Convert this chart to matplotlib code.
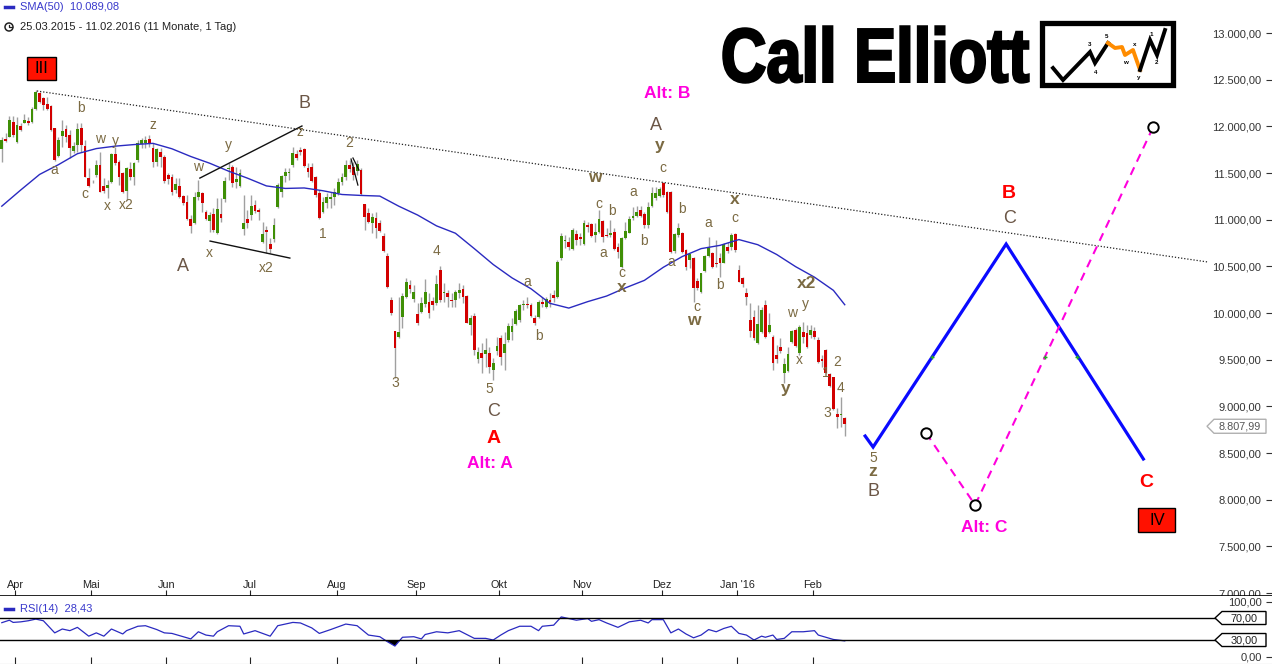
import numpy as np
import pandas as pd
import matplotlib
matplotlib.use("Agg")
import matplotlib.pyplot as plt
from matplotlib.patches import Polygon, Rectangle, Circle, PathPatch
from matplotlib.textpath import TextPath
from matplotlib.font_manager import FontProperties
from matplotlib.transforms import Affine2D

plt.rcParams['font.family'] = ['Liberation Sans', 'DejaVu Sans']

# Xetra trading days of the chart
holidays = ['2015-04-03', '2015-04-06', '2015-05-01', '2015-12-24',
            '2015-12-25', '2015-12-31', '2016-01-01']
days = pd.bdate_range('2015-03-26', '2016-02-11')
days = days[~days.isin(pd.to_datetime(holidays))]
month_names = ["Apr", "Mai", "Jun", "Jul", "Aug", "Sep", "Okt", "Nov", "Dez", "Jan '16", "Feb"]

# Daily candles
opens = [
    11757, 11864, 11882, 12050, 11835, 12003, 12039, 12057, 12050, 12182,
    12353, 12300, 12239, 12217, 11978, 11682, 11896, 11967, 11907, 11739,
    11800, 11978, 11789, 11443, 11400, 11478, 11585, 11360, 11335, 11407,
    11703, 11621, 11496, 11310, 11539, 11453, 11639, 11811, 11818, 11860,
    11764, 11621, 11728, 11675, 11482, 11460, 11318, 11360, 11254, 11189,
    11003, 10960, 11239, 11282, 11085, 10989, 11060, 10853, 11060, 11221,
    11546, 11560, 11407, 11360, 10900, 11003, 11050, 11157, 11103, 10757,
    10889, 10739, 10793, 11139, 11300, 11468, 11503, 11585, 11703, 11746,
    11757, 11557, 11560, 11460, 11289, 11085, 11175, 11221, 11246, 11282,
    11407, 11460, 11585, 11560, 11525, 11532, 11168, 11075, 10960, 11021,
    10960, 10825, 10611, 10139, 9810, 9739, 9960, 10168, 10300, 10146,
    9989, 10015, 10097, 10122, 10129, 10111, 10461, 10211, 10218, 10139,
    10139, 10218, 10254, 10182, 9872, 9972, 9504, 9568, 9561, 9568,
    9390, 9593, 9736, 9575, 9711, 9800, 9882, 9925, 10090, 10096,
    10086, 9943, 9961, 10122, 10068, 10139, 10193, 10175, 10586, 10775,
    10764, 10682, 10846, 10818, 10739, 10943, 10954, 10836, 10871, 10989,
    10836, 10836, 10871, 10704, 10489, 10800, 10861, 11014, 11039, 11104,
    11061, 10943, 11146, 11229, 11254, 11396, 11300, 11300, 10668, 10836,
    10854, 10675, 10568, 10586, 10346, 10229, 10454, 10611, 10639, 10532,
    10586, 10539, 10711, 10711, 10846, 10461, 10379, 10218, 9925, 9961,
    9675, 9800, 10086, 9800, 9747, 9550, 9640, 9354, 9382, 9693,
    9818, 9568, 9800, 9782, 9764, 9807, 9711, 9504, 9604, 9347,
    9311, 8918, 8905, 8872]
highs = [
    11889, 11932, 12110, 12110, 12103, 12032, 12128, 12103, 12210, 12389,
    12371, 12317, 12310, 12228, 11978, 11889, 12067, 12014, 11960, 11835,
    12032, 12032, 11853, 11550, 11425, 11639, 11728, 11443, 11425, 11710,
    11782, 11639, 11514, 11560, 11621, 11621, 11853, 11871, 11896, 11907,
    11818, 11764, 11764, 11693, 11496, 11485, 11443, 11443, 11264, 11264,
    11050, 11300, 11425, 11300, 11103, 11085, 11121, 11228, 11228, 11460,
    11603, 11585, 11568, 11539, 11264, 11103, 11264, 11210, 11121, 10978,
    10932, 10800, 11014, 11389, 11478, 11550, 11550, 11782, 11746, 11782,
    11764, 11603, 11610, 11468, 11318, 11246, 11282, 11300, 11335, 11443,
    11496, 11639, 11639, 11621, 11639, 11550, 11168, 11121, 11068, 11085,
    10996, 10853, 10639, 10175, 9811, 10175, 10211, 10371, 10353, 10300,
    10103, 10175, 10361, 10211, 10175, 10407, 10504, 10318, 10247, 10211,
    10247, 10318, 10300, 10193, 9979, 9997, 9640, 9675, 9729, 9640,
    9515, 9747, 9764, 9800, 9890, 9943, 10040, 10097, 10139, 10175,
    10104, 9979, 10139, 10175, 10175, 10211, 10247, 10568, 10854, 10836,
    10811, 10907, 10889, 10854, 10997, 10979, 10961, 10961, 11104, 10997,
    10907, 10997, 10907, 10747, 10811, 10979, 11039, 11139, 11147, 11147,
    11086, 11193, 11354, 11347, 11354, 11407, 11311, 11311, 10854, 10968,
    10871, 10682, 10622, 10597, 10372, 10432, 10622, 10811, 10657, 10782,
    10639, 10754, 10764, 10861, 10861, 10514, 10389, 10264, 10104, 10032,
    10086, 10068, 10139, 9997, 9764, 9657, 9729, 9515, 9640, 9818,
    9836, 9872, 9907, 9872, 9872, 9854, 9747, 9550, 9611, 9361,
    9318, 8979, 9104, 8890]
lows = [
    11621, 11835, 11882, 11889, 11818, 11953, 12032, 12014, 12039, 12175,
    12253, 12175, 12175, 11953, 11632, 11675, 11782, 11835, 11657, 11710,
    11728, 11728, 11453, 11346, 11389, 11460, 11293, 11282, 11228, 11389,
    11585, 11371, 11282, 11210, 11425, 11371, 11621, 11764, 11764, 11782,
    11568, 11575, 11568, 11396, 11382, 11264, 11282, 11228, 11157, 10996,
    10853, 10953, 11210, 11085, 10996, 10871, 10871, 10846, 10978, 11193,
    11425, 11346, 11335, 11353, 10836, 10907, 10996, 11068, 10996, 10746,
    10639, 10639, 10764, 11121, 11246, 11407, 11425, 11568, 11639, 11693,
    11560, 11460, 11407, 11246, 11003, 11068, 11121, 11121, 11157, 11264,
    11371, 11425, 11514, 11425, 11478, 11264, 10889, 10960, 10853, 10800,
    10871, 10657, 10264, 9979, 9300, 9729, 9836, 10157, 10211, 10121,
    9871, 9997, 10068, 9943, 10032, 10086, 10122, 10122, 10068, 10068,
    10068, 10157, 10104, 9890, 9764, 9550, 9461, 9354, 9425, 9354,
    9282, 9550, 9443, 9390, 9693, 9711, 9872, 9907, 10032, 10050,
    9961, 9872, 9943, 10068, 10050, 10068, 10122, 10157, 10568, 10693,
    10675, 10675, 10729, 10729, 10729, 10871, 10811, 10764, 10854, 10764,
    10818, 10818, 10675, 10586, 10479, 10789, 10854, 10997, 11032, 11032,
    10907, 10907, 11132, 11211, 11239, 11246, 11068, 10639, 10639, 10811,
    10639, 10461, 10479, 10122, 10247, 10218, 10443, 10604, 10479, 10497,
    10389, 10532, 10639, 10675, 10657, 10336, 10282, 10086, 9747, 9711,
    9668, 9782, 9729, 9782, 9390, 9461, 9575, 9247, 9372, 9675,
    9640, 9550, 9675, 9622, 9729, 9718, 9461, 9425, 9361, 9204,
    8961, 8765, 8783, 8683]
closes = [
    11853, 11843, 12067, 11907, 12014, 11960, 12067, 12039, 12182, 12371,
    12264, 12228, 12182, 11960, 11639, 11853, 11950, 11882, 11764, 11789,
    11967, 11800, 11460, 11360, 11407, 11585, 11300, 11310, 11371, 11703,
    11603, 11460, 11300, 11550, 11453, 11603, 11825, 11853, 11853, 11810,
    11621, 11753, 11668, 11418, 11439, 11300, 11382, 11239, 11175, 11003,
    10932, 11246, 11300, 11182, 11003, 11050, 10889, 11110, 11014, 11418,
    11557, 11389, 11435, 11496, 10960, 10968, 11146, 11096, 11085, 10846,
    10871, 10685, 10943, 11371, 11468, 11514, 11514, 11710, 11664, 11728,
    11575, 11514, 11418, 11264, 11021, 11193, 11246, 11246, 11300, 11407,
    11460, 11585, 11539, 11478, 11596, 11275, 11025, 10978, 11032, 10907,
    10882, 10668, 10282, 9996, 9621, 9800, 10182, 10336, 10254, 10228,
    9896, 10104, 10229, 9997, 10086, 10307, 10139, 10225, 10168, 10129,
    10229, 10247, 10175, 9897, 9943, 9604, 9586, 9515, 9604, 9425,
    9461, 9647, 9532, 9664, 9861, 9861, 10022, 10086, 10097, 10086,
    9972, 9890, 10122, 10097, 10147, 10114, 10157, 10550, 10825, 10782,
    10704, 10889, 10782, 10789, 10968, 10918, 10825, 10871, 11007, 10811,
    10825, 10861, 10686, 10657, 10800, 10879, 11004, 11039, 11086, 11043,
    10943, 11139, 11282, 11289, 11325, 11264, 11086, 10657, 10846, 10907,
    10657, 10489, 10632, 10264, 10264, 10425, 10611, 10693, 10489, 10522,
    10539, 10739, 10664, 10836, 10675, 10336, 10311, 10168, 9811, 9729,
    9882, 10032, 9747, 9872, 9461, 9504, 9593, 9454, 9561, 9807,
    9650, 9854, 9739, 9640, 9818, 9747, 9479, 9490, 9361, 9218,
    8968, 8882, 8912, 8807.99]

# SMA(50), read every 5 sessions
sma_day = [0, 5, 10, 15, 20, 25, 30, 35, 40, 45, 50, 55, 60, 65, 70, 75, 80, 85, 90, 95,
           100, 105, 110, 115, 120, 125, 130, 135, 140, 145, 150, 155, 160, 165, 170,
           175, 180, 185, 190, 195, 200, 205, 210, 215, 220, 223]
sma_val = [11145, 11318, 11485, 11590, 11707, 11762, 11788, 11805, 11818, 11760,
           11677, 11605, 11520, 11445, 11362, 11335, 11340, 11310, 11270, 11260,
           11253, 11145, 11050, 10934, 10855, 10690, 10520, 10376, 10260, 10104,
           10053, 10122, 10182, 10270, 10350, 10490, 10605, 10690, 10725, 10787,
           10732, 10627, 10497, 10384, 10243, 10089.08]

# RSI(14)
rsi_day = [0, 2, 3, 5, 7, 9, 11, 14, 16, 18, 20, 23, 25, 27, 29, 32, 33, 36, 38, 41,
           43, 45, 50, 52, 54, 56, 57, 60, 63, 64, 67, 71, 73, 77, 79, 82, 84, 87, 91,
           94, 97, 100, 102, 104, 106, 109, 111, 112, 115, 118, 121, 125, 128, 130,
           132, 134, 137, 140, 142, 143, 146, 148, 150, 152, 155, 156, 158, 160, 163,
           166, 169, 171, 172, 175, 177, 179, 181, 183, 185, 187, 189, 191, 193, 195,
           197, 199, 201, 202, 204, 205, 207, 209, 212, 215, 216, 220, 223]
rsi_val = [61.5, 66, 62, 63, 65, 68, 65, 43, 50, 47, 53, 37, 43, 37, 50, 41, 47, 55, 56, 49,
           43, 42, 32, 45, 39, 37, 45, 56, 55, 41, 47, 37, 56, 62, 61, 52, 42, 49, 59,
           56, 39, 36, 27, 19, 35, 36, 32, 40, 45, 43, 47, 33, 33, 30,
           39, 47, 55, 55, 47, 55, 57, 72, 69, 66, 69, 64, 67, 61, 53,
           63, 66, 61, 67, 67, 43, 50, 41, 34, 39, 49, 45, 51, 55, 42,
           39, 30, 37, 35, 39, 31, 33, 45, 45, 47, 39, 31, 28.43]

# Long trend line and wave projections (session index, price)
trend_day = [9.3, 319]
trend_val = [12379, 10547]
wedge_hi_day, wedge_hi_val = [52.4, 79.4], [11446, 12004]
wedge_lo_day, wedge_lo_val = [55.1, 76.2], [10771, 10589]
proj_day = [228.4, 230.5, 265.7, 302]
proj_val = [8682, 8564, 10739, 8436]
alt_day = [244.5, 257.5, 304.6]
alt_val = [8714, 7943, 11993]

# Wave labels: text, session index, price, style
labels = [
    ("a", 14, 11530, "s"), ("b", 21, 12200, "s"), ("c", 22, 11275, "s"), ("w", 26, 11865, "s"),
    ("y", 30, 11845, "s"), ("x", 28, 11145, "s"), ("x2", 33, 11155, "s"), ("z", 40, 12015, "s"),
    ("w", 52, 11565, "s"), ("y", 60, 11800, "s"), ("x", 55, 10645, "s"), ("x2", 70, 10480, "s"),
    ("z", 79, 11940, "s"), ("2", 92, 11820, "s"), ("1", 85, 10845, "s"), ("4", 115, 10665, "s"),
    ("3", 104, 9250, "s"), ("5", 129, 9185, "s"), ("a", 139, 10330, "s"), ("b", 142, 9755, "s"),
    ("c", 158, 11170, "s"), ("b", 161.5, 11095, "s"), ("a", 159, 10645, "s"), ("c", 164, 10430, "s"),
    ("a", 167, 11295, "s"), ("b", 170, 10770, "s"), ("c", 175, 11555, "s"), ("b", 180, 11115, "s"),
    ("a", 177, 10545, "s"), ("c", 184, 10065, "s"), ("a", 187, 10965, "s"), ("b", 190, 10300, "s"),
    ("c", 194, 11020, "s"), ("y", 212.5, 10095, "s"), ("w", 209, 10000, "s"), ("x", 211, 9495, "s"),
    ("2", 221, 9475, "s"), ("1", 218, 9357, "s"), ("4", 222, 9195, "s"), ("3", 218.5, 8930, "s"),
    ("5", 230.5, 8445, "s"),
    ("w", 157, 11455, "m"), ("x", 164, 10270, "m"), ("y", 174, 11800, "m"), ("w", 183, 9925, "m"),
    ("x", 194, 11220, "m"), ("x2", 213, 10320, "m"), ("y", 207.5, 9195, "m"), ("z", 230.5, 8307, "m"),
    ("A", 48, 10495, "b"), ("B", 80, 12240, "b"), ("A", 173, 12005, "b"), ("C", 130, 8940, "b"),
    ("B", 230.5, 8093, "b"), ("C", 266.5, 11018, "b"),
    ("A", 130, 8660, "r"), ("B", 266.5, 11285, "r"), ("C", 302.7, 8180, "r"),
    ("Alt: B", 176, 12355, "alt"), ("Alt: A", 129, 8393, "alt"), ("Alt: C", 260, 7707, "alt"),
]
styles = {
    "s": dict(fontsize=10, color="#7b6a42"),
    "m": dict(fontsize=12.5, color="#7b6a42", fontweight="bold"),
    "b": dict(fontsize=13, color="#6b5646"),
    "r": dict(fontsize=14, color="#ff0000", fontweight="bold"),
    "alt": dict(fontsize=12.5, color="#ff00dd", fontweight="bold"),
}
boxes = [("III", 10.4, 12625, 3.85, 123), ("IV", 305.6, 7782, 4.9, 128)]


def de_num(v):
    return f"{v:,.2f}".replace(",", "X").replace(".", ",").replace("X", ".")


W, H = 1272, 664
fig = plt.figure(figsize=(W / 100, H / 100), dpi=100)
ax = fig.add_axes([0, 68 / H, 1, 596 / H])
ax_rsi = fig.add_axes([0, 0, 1, 68 / H])

x = np.arange(len(days))
o, h, l, c = map(np.array, (opens, highs, lows, closes))
up = c >= o

# candles
ax.vlines(x, l, h, color="#a0a0a0", lw=1, zorder=2)
body = np.maximum(np.abs(c - o), 9)
ax.bar(x, body, bottom=np.minimum(o, c), width=0.74,
       color=np.where(up, "#3f8f06", "#d20000"), zorder=3)

ax.plot(sma_day, sma_val, color="#2a2ac0", lw=1, zorder=4)
ax.plot(trend_day, trend_val, color="#222222", lw=0.9, ls=(0, (1, 1.5)), zorder=4)
ax.plot(wedge_hi_day, wedge_hi_val, color="#111111", lw=1, zorder=4)
ax.plot(wedge_lo_day, wedge_lo_val, color="#111111", lw=1, zorder=4)
ax.plot([92.4, 94.2], [11650, 11371], color="#111111", lw=0.9, zorder=4)
ax.plot([92.9, 94.5], [11661, 11532], color="#111111", lw=0.9, zorder=4)

# projections
ax.plot(proj_day, proj_val, color="#0a0aff", lw=2.3, solid_joinstyle="miter", zorder=5)
ax.plot(alt_day, alt_val, color="#ff00dd", lw=1.5, ls=(0, (4, 3)), zorder=5)
ax.plot(alt_day, alt_val, ls="none", marker="o", ms=7.5, mfc="white", mec="black", mew=1.4, zorder=6)
ax.plot([246.1, 276, 284.4], [9530, 9530, 9530], ls="none", marker="+", ms=3, color="#22aa22", zorder=6)

for txt, d, v, st in labels:
    ax.text(d, v, txt, ha="center", va="center", zorder=7, **styles[st])
for txt, d, v, dw, dh in boxes:
    ax.add_patch(Rectangle((d - dw, v - dh), 2 * dw, 2 * dh, fc="#ff1100", ec="black", lw=1, zorder=7))
    ax.text(d, v, txt, ha="center", va="center", fontsize=12, color="black", zorder=8)

x_lo, x_hi = -1.8 / 3.78, (W - 1.8) / 3.78
month_start = [i for i in range(1, len(days)) if days[i].month != days[i - 1].month]
ticks = [i - 0.45 for i in month_start]

ax.set_xlim(x_lo, x_hi)
ax.set_ylim(6968, 13354)
ax.set_xticks(ticks)
ax.set_xticklabels(month_names[:len(ticks)])
ax.tick_params(axis="x", direction="in", length=4, pad=-11.5, labelsize=7.8, colors="#222222")
ax.yaxis.tick_right()
ax.set_yticks(np.arange(7000, 13001, 500))
ax.set_yticklabels([de_num(v) for v in np.arange(7000, 13001, 500)])
ax.tick_params(axis="y", direction="in", length=4, pad=-7.5, labelsize=8, colors="#333333")
plt.setp(ax.get_yticklabels(), ha="right")
for s in ("top", "left", "right"):
    ax.spines[s].set_visible(False)
ax.spines["bottom"].set_linewidth(1.2)

# RSI panel
rv = np.array(rsi_val)
ax_rsi.plot(rsi_day, rsi_val, color="#2a2ac0", lw=0.9)
ax_rsi.fill_between(rsi_day, rv, 30, where=rv < 30, interpolate=True, color="black", lw=0)
ax_rsi.fill_between(rsi_day, rv, 70, where=rv > 70, interpolate=True, color="black", lw=0)
ax_rsi.axhline(70, xmax=1215 / W, color="black", lw=1)
ax_rsi.axhline(30, xmax=1215 / W, color="black", lw=1)
ax_rsi.set_xlim(x_lo, x_hi)
ax_rsi.set_ylim(-13.6, 110)
ax_rsi.set_xticks(ticks)
ax_rsi.set_xticklabels([])
ax_rsi.tick_params(axis="x", direction="in", length=5, colors="#222222")
ax_rsi.yaxis.tick_right()
ax_rsi.set_yticks([0, 100])
ax_rsi.set_yticklabels(["0,00", "100,00"])
ax_rsi.tick_params(axis="y", direction="in", length=4, pad=-7.5, labelsize=8, colors="#333333")
plt.setp(ax_rsi.get_yticklabels(), ha="right")
for s in ("top", "left", "right"):
    ax_rsi.spines[s].set_visible(False)
ax_rsi.spines["bottom"].set_color("#999999")

# overlay in pixel coordinates for header, logo and price tags
deco = fig.add_axes([0, 0, 1, 1], zorder=10)
deco.set_xlim(0, W)
deco.set_ylim(H, 0)
deco.axis("off")
deco.patch.set_alpha(0)


def to_px(a, xx, yy):
    dx, dy = a.transData.transform((xx, yy))
    return dx, H - dy


def tag(yc, text, ec, tc, x0, x1, hh):
    pts = [(x0 - 7, yc), (x0, yc - hh / 2), (x1, yc - hh / 2), (x1, yc + hh / 2), (x0, yc + hh / 2)]
    deco.add_patch(Polygon(pts, closed=True, fc="white", ec=ec, lw=1))
    deco.text((x0 + x1) / 2, yc + 0.5, text, ha="center", va="center", fontsize=7.8, color=tc)


tag(to_px(ax, 0, closes[-1])[1] + 2, de_num(closes[-1]), "#b0b0b0", "#555555", 1214, 1266, 14)
tag(to_px(ax_rsi, 0, 70)[1], "70,00", "black", "#222222", 1222, 1266, 13)
tag(to_px(ax_rsi, 0, 30)[1], "30,00", "black", "#222222", 1222, 1266, 13)

# header
deco.plot([5, 13], [7, 7], color="#2a2ac0", lw=2.5)
deco.text(20, 7, "SMA(50)  10.089,08", color="#3a3acc", fontsize=8, va="center")
deco.add_patch(Circle((9, 27), 4, fc="white", ec="#222222", lw=1.1))
deco.plot([9, 9, 11.5], [24.5, 27, 27], color="#222222", lw=0.9)
deco.text(20, 27, "25.03.2015 - 11.02.2016 (11 Monate, 1 Tag)", color="#222222", fontsize=8, va="center")
deco.plot([5, 13], [609, 609], color="#2a2ac0", lw=2.5)
deco.text(20, 609, "RSI(14)  28,43", color="#3a3acc", fontsize=8, va="center")

# logo
fp = FontProperties(family="Liberation Sans", weight="bold")
tp = TextPath((0, 0), "Call Elliott", size=100, prop=fp)
bb = tp.get_extents()
tr = Affine2D().translate(-bb.x0, -bb.y0).scale(305 / bb.width, -56 / bb.height).translate(723.5, 82.5)
deco.add_patch(PathPatch(tr.transform_path(tp), fc="black", ec="black", lw=1.8, joinstyle="miter"))
deco.add_patch(Rectangle((1042, 23), 131, 62, fc="white", ec="black", lw=3.8))
deco.plot([1053, 1063, 1090, 1095, 1108], [68, 80, 52, 63, 43], color="black", lw=2.8, solid_joinstyle="miter")
deco.plot([1108, 1115, 1122, 1125, 1133, 1140], [43, 48, 47, 55, 50, 70], color="#ff8c00", lw=2.8)
deco.plot([1140, 1150, 1157, 1165], [70, 40, 55, 30], color="black", lw=2.8, solid_joinstyle="miter")
for t, px, py in [("3", 1090, 44), ("5", 1107, 37), ("4", 1096, 73), ("w", 1125, 62),
                  ("x", 1135, 44), ("y", 1139, 77), ("1", 1151, 34), ("2", 1157, 63)]:
    deco.text(px, py, t, fontsize=4.5, fontweight="bold", ha="center", va="center")

fig.savefig("out.png", dpi=100)
